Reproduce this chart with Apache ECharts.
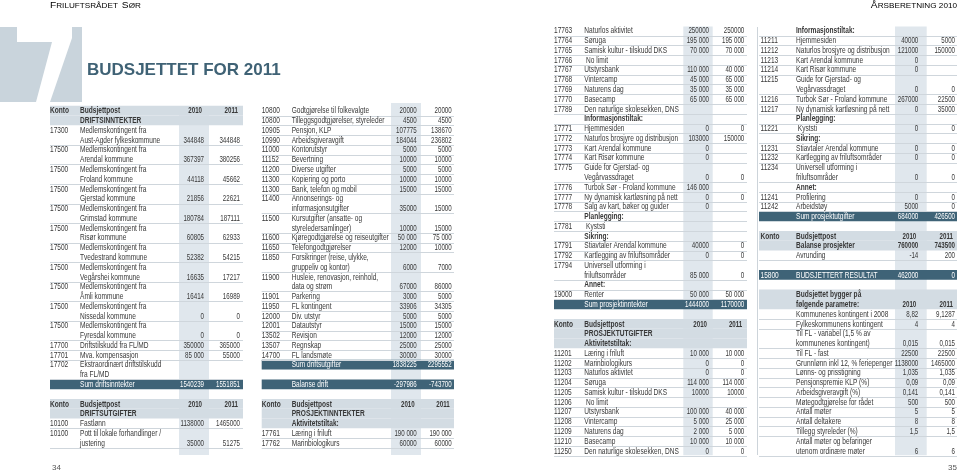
<!DOCTYPE html>
<html>
<head>
<meta charset="UTF-8"/>
<title>Budsjettet for 2011</title>
<script src="https://cdn.jsdelivr.net/npm/echarts@6/dist/echarts.min.js"></script>
<style>
    html, body { margin: 0; padding: 0; background: #fff; }
    #chart { width: 960px; height: 475px; }
</style>
</head>
<body>
<div id="chart"></div>
<script>
// rad-typer: h = grå overskrift, r = vanlig rad, s = seksjon, sum = mørk sumrad, gap = tom linje
var headRow = ['h', 'Konto', 'Budsjettpost', '2010', '2011'];
var gapRow = ['gap', '', '', '', ''];

var driftsinntekter = [
    headRow,
    ['h', '', 'DRIFTSINNTEKTER', '', ''],
    ['r', '17300', 'Medlemskontingent fra\nAust-Agder fylkeskommune', '344848', '344848'],
    ['r', '17500', 'Medlemskontingent fra\nArendal kommune', '367397', '380256'],
    ['r', '17500', 'Medlemskontingent fra\nFroland kommune', '44118', '45662'],
    ['r', '17500', 'Medlemskontingent fra\nGjerstad kommune', '21856', '22621'],
    ['r', '17500', 'Medlemskontingent fra\nGrimstad kommune', '180784', '187111'],
    ['r', '17500', 'Medlemskontingent fra\nRisør kommune', '60805', '62933'],
    ['r', '17500', 'Medlemskontingent fra\nTvedestrand kommune', '52382', '54215'],
    ['r', '17500', 'Medlemskontingent fra\nVegårshei kommune', '16635', '17217'],
    ['r', '17500', 'Medlemskontingent fra\nÅmli kommune', '16414', '16989'],
    ['r', '17500', 'Medlemskontingent fra\nNissedal kommune', '0', '0'],
    ['r', '17500', 'Medlemskontingent fra\nFyresdal kommune', '0', '0'],
    ['r', '17700', 'Driftstilskudd fra FL/MD', '350000', '365000'],
    ['r', '17701', 'Mva. kompensasjon', '85 000', '55000'],
    ['r', '17702', 'Ekstraordinært driftstilskudd\nfra FL/MD', '', ''],
    ['sum', '', 'Sum driftsinntekter', '1540239', '1551851'],
    gapRow,
    headRow,
    ['h', '', 'DRIFTSUTGIFTER', '', ''],
    ['r', '10100', 'Fastlønn', '1138000', '1465000'],
    ['r', '10100', 'Pott til lokale forhandlinger /\njustering', '35000', '51275']
];

var driftsutgifter = [
    ['r', '10800', 'Godtgjørelse til folkevalgte', '20000', '20000'],
    ['r', '10800', 'Tilleggsgodtgjørelser, styreleder', '4500', '4500'],
    ['r', '10905', 'Pensjon, KLP', '107775', '138670'],
    ['r', '10990', 'Arbeidsgiveravgift', '184044', '236802'],
    ['r', '11000', 'Kontorutstyr', '5000', '5000'],
    ['r', '11152', 'Bevertning', '10000', '10000'],
    ['r', '11200', 'Diverse utgifter', '5000', '5000'],
    ['r', '11300', 'Kopiering og porto', '10000', '10000'],
    ['r', '11300', 'Bank, telefon og mobil', '15000', '15000'],
    ['r', '11400', 'Annonserings- og\ninformasjonsutgifter', '35000', '15000'],
    ['r', '11500', 'Kursutgifter (ansatte- og\nstyreledersamlinger)', '10000', '15000'],
    ['r', '11600', 'Kjøregodtgjørelse og reiseutgifter', '50 000', '75 000'],
    ['r', '11650', 'Telefongodtgjørelser', '12000', '10000'],
    ['r', '11850', 'Forsikringer (reise, ulykke,\ngruppeliv og kontor)', '6000', '7000'],
    ['r', '11900', 'Husleie, renovasjon, reinhold,\ndata og strøm', '67000', '86000'],
    ['r', '11901', 'Parkering', '3000', '5000'],
    ['r', '11950', 'FL kontingent', '33906', '34305'],
    ['r', '12000', 'Div. utstyr', '5000', '5000'],
    ['r', '12001', 'Datautstyr', '15000', '15000'],
    ['r', '13502', 'Revisjon', '12000', '12000'],
    ['r', '13507', 'Regnskap', '25000', '25000'],
    ['r', '14700', 'FL landsmøte', '30000', '30000'],
    ['sum', '', 'Sum driftsutgifter', '1838225', '2295552'],
    gapRow,
    ['sum', '', 'Balanse drift', '-297986', '-743700'],
    gapRow,
    headRow,
    ['h', '', 'PROSJEKTINNTEKTER', '', ''],
    ['h', '', 'Aktivitetstiltak:', '', ''],
    ['r', '17761', 'Læring i friluft', '190 000', '190 000'],
    ['r', '17762', 'Marinbiologikurs', '60000', '60000']
];

var prosjektinntekter = [
    ['r', '17763', 'Naturlos aktivitet', '250000', '250000'],
    ['r', '17764', 'Søruga', '195 000', '195 000'],
    ['r', '17765', 'Samisk kultur - tilskudd DKS', '70 000', '70 000'],
    ['r', '17766', ' No limit', '', ''],
    ['r', '17767', 'Utstyrsbank', '110 000', '40 000'],
    ['r', '17768', 'Vintercamp', '45 000', '65 000'],
    ['r', '17769', 'Naturens dag', '35 000', '35 000'],
    ['r', '17770', 'Basecamp', '65 000', '65 000'],
    ['r', '17789', 'Den naturlige skolesekken, DNS', '', ''],
    ['s', '', 'Informasjonstiltak:', '', ''],
    ['r', '17771', 'Hjemmesiden', '0', '0'],
    ['r', '17772', 'Naturlos brosjyre og distribusjon', '103000', '150000'],
    ['r', '17773', 'Kart Arendal kommune', '0', ''],
    ['r', '17774', 'Kart Risør kommune', '0', ''],
    ['r', '17775', 'Guide for Gjerstad- og\nVegårvassdraget', '0', '0'],
    ['r', '17776', 'Turbok Sør - Froland kommune', '146 000', ''],
    ['r', '17777', 'Ny dynamisk kartløsning på nett', '0', '0'],
    ['r', '17778', 'Salg av kart, bøker og guider', '0', ''],
    ['s', '', 'Planlegging:', '', ''],
    ['r', '17781', ' Kyststi', '', ''],
    ['s', '', 'Sikring:', '', ''],
    ['r', '17791', 'Stiavtaler Arendal kommune', '40000', '0'],
    ['r', '17792', 'Kartlegging av friluftsområder', '0', '0'],
    ['r', '17794', 'Universell utforming i\nfriluftsområder', '85 000', '0'],
    ['s', '', 'Annet:', '', ''],
    ['r', '19000', 'Renter', '50 000', '50 000'],
    ['sum', '', 'Sum prosjektinntekter', '1444000', '1170000'],
    gapRow,
    headRow,
    ['h', '', 'PROSJEKTUTGIFTER', '', ''],
    ['h', '', 'Aktivitetstiltak:', '', ''],
    ['r', '11201', 'Læring i friluft', '10 000', '10 000'],
    ['r', '11202', 'Marinbiologikurs', '0', '0'],
    ['r', '11203', 'Naturlos aktivitet', '0', '0'],
    ['r', '11204', 'Søruga', '114 000', '114 000'],
    ['r', '11205', 'Samisk kultur - tilskudd DKS', '10000', '10000'],
    ['r', '11206', ' No limit', '', ''],
    ['r', '11207', 'Utstyrsbank', '100 000', '40 000'],
    ['r', '11208', 'Vintercamp', '5 000', '25 000'],
    ['r', '11209', 'Naturens dag', '2 000', '5 000'],
    ['r', '11210', 'Basecamp', '10 000', '10 000'],
    ['r', '11250', 'Den naturlige skolesekken, DNS', '0', '0']
];

var prosjektutgifter = [
    ['s', '', 'Informasjonstiltak:', '', ''],
    ['r', '11211', 'Hjemmesiden', '40000', '5000'],
    ['r', '11212', 'Naturlos brosjyre og distribusjon', '121000', '150000'],
    ['r', '11213', 'Kart Arendal kommune', '0', ''],
    ['r', '11214', 'Kart Risør kommune', '0', ''],
    ['r', '11215', 'Guide for Gjerstad- og\nVegårvassdraget', '0', '0'],
    ['r', '11216', 'Turbok Sør - Froland kommune', '267000', '22500'],
    ['r', '11217', 'Ny dynamisk kartløsning på nett', '0', '35000'],
    ['s', '', 'Planlegging:', '', ''],
    ['r', '11221', ' Kyststi', '0', '0'],
    ['s', '', 'Sikring:', '', ''],
    ['r', '11231', 'Stiavtaler Arendal kommune', '0', '0'],
    ['r', '11232', 'Kartlegging av friluftsområder', '0', '0'],
    ['r', '11234', 'Universell utforming i\nfriluftsområder', '0', '0'],
    ['s', '', 'Annet:', '', ''],
    ['r', '11241', 'Profilering', '0', '0'],
    ['r', '11242', 'Arbeidstøy', '5000', '0'],
    ['sum', '', 'Sum prosjektutgifter', '684000', '426500'],
    gapRow,
    headRow,
    ['h', '', 'Balanse prosjekter', '760000', '743500'],
    ['r', '', 'Avrunding', '-14', '200'],
    gapRow,
    ['sum', '15800', 'BUDSJETTERT RESULTAT', '462000', '0'],
    gapRow,
    ['h', '', 'Budsjettet bygger på\nfølgende parametre:', '2010', '2011'],
    ['r', '', 'Kommunenes kontingent i 2008', '8,82', '9,1287'],
    ['r', '', 'Fylkeskommunens kontingent', '4', '4'],
    ['r', '', 'Til FL - variabel (1,5 % av\nkommunenes kontingent)', '0,015', '0,015'],
    ['r', '', 'Til FL - fast', '22500', '22500'],
    ['r', '', 'Grunnlønn inkl 12, % feriepenger', '1138000', '1465000'],
    ['r', '', 'Lønns- og prisstigning', '1,035', '1,035'],
    ['r', '', 'Pensjonspremie KLP (%)', '0,09', '0,09'],
    ['r', '', 'Arbeidsgiveravgift (%)', '0,141', '0,141'],
    ['r', '', 'Møtegodtgjørelse for rådet', '500', '500'],
    ['r', '', 'Antall møter', '5', '5'],
    ['r', '', 'Antall deltakere', '8', '8'],
    ['r', '', 'Tillegg styreleder (%)', '1,5', '1,5'],
    ['r', '', 'Antall møter og befaringer\nutenom ordinære møter', '6', '6']
];

var BAND = '#d3dce3';
var STRIPE = '#e0e7ed';
var DARK = '#3f6377';
var SEP = '#cfd6dc';
var INK = '#383838';
var FONT = '"Liberation Sans", Arimo, Arial, sans-serif';
var FSIZE = 9.8;
var PITCH = 9.77;
var TXT_SX = 0.67, NUM_SX = 0.63;

// oppsett per tabellspalte (x i piksler fra venstre kant av tabellen)
var tables = [
    {rows: driftsinntekter, left: 50, w: 193, y0: 110.7, maxLine: 36,
        konto: 0, post: 30, v10: 154, v11: 190, s0: 129, s1: 159, stripe: [0, 35.25]},
    {rows: driftsutgifter, left: 261.7, w: 192.3, y0: 110.7, maxLine: 36,
        konto: 0, post: 30, v10: 155, v11: 190, s0: 129.3, s1: 159.3, stripe: [-0.8, 35.25]},
    {rows: prosjektinntekter, left: 554, w: 193, y0: 30.7, maxLine: 44,
        konto: 0, post: 30.3, v10: 155, v11: 190.3, s0: 129.3, s1: 158.7, stripe: [-0.42, 43.45]},
    {rows: prosjektutgifter, left: 759, w: 198, y0: 30.7, maxLine: 44,
        konto: 1.5, post: 37, v10: 159.3, v11: 196, s0: 136, s1: 167.7, stripe: [-0.42, 43.45]}
];

function txt(x, y, s, opt) {
    return {
        type: 'text', x: x, y: y, scaleX: opt.sx, z2: 3,
        style: {
            text: s, fill: opt.fill, font: (opt.bold ? 'bold ' : '') + FSIZE + 'px ' + FONT,
            align: opt.align, textAlign: opt.align, verticalAlign: 'middle', textVerticalAlign: 'middle'
        }
    };
}

function rowRenderer(t) {
    return function (params, api) {
        var row = t.rows[params.dataIndex];
        var type = row[0];
        var lines = row[2].split('\n');
        var first = api.value(0);
        var last = first + lines.length - 1;
        var yc = function (l) { return api.coord([0, l])[1]; };
        var xc = function (dx) { return api.coord([dx, first])[0]; };
        var half = api.size([0, 1])[1] / 2;
        var kids = [];
        if (type === 'gap') return {type: 'group', children: kids};
        if (type === 'h' || type === 'sum') {
            kids.push({
                type: 'rect', z2: 1,
                shape: {x: xc(0), y: yc(first) - half, width: xc(t.w) - xc(0), height: yc(last) - yc(first) + 2 * half},
                style: {fill: type === 'h' ? BAND : DARK}
            });
        } else {
            var yb = Math.round(yc(last) + half) + 0.5;
            kids.push({
                type: 'line', z2: 2,
                shape: {x1: xc(0), y1: yb, x2: xc(t.w), y2: yb},
                style: {stroke: SEP, lineWidth: 1}
            });
        }
        var fill = type === 'sum' ? '#ffffff' : INK;
        var bold = type === 'h' || type === 's';
        var isHead = row[3] === '2010';
        if (row[1]) kids.push(txt(xc(t.konto), yc(first), row[1], {sx: TXT_SX, fill: fill, bold: bold, align: 'left'}));
        lines.forEach(function (s, i) {
            kids.push(txt(xc(t.post), yc(first + i), s, {sx: TXT_SX, fill: fill, bold: bold, align: 'left'}));
        });
        var off = isHead ? 2 : 0;
        if (row[3]) kids.push(txt(xc(t.v10 - off), yc(last), row[3], {sx: NUM_SX, fill: fill, bold: bold, align: 'right'}));
        if (row[4]) kids.push(txt(xc(t.v11 - off), yc(last), row[4], {sx: NUM_SX, fill: fill, bold: bold, align: 'right'}));
        return {type: 'group', children: kids};
    };
}

function stripeRenderer(t) {
    return function (params, api) {
        var a = api.coord([t.s0, api.value(0)]);
        var b = api.coord([t.s1, api.value(1)]);
        return {type: 'rect', shape: {x: a[0], y: a[1], width: b[0] - a[0], height: b[1] - a[1]}, style: {fill: STRIPE}};
    };
}

var grids = [], xAxes = [], yAxes = [], series = [];
tables.forEach(function (t, i) {
    grids.push({left: t.left, width: t.w, top: t.y0 - PITCH, height: (t.maxLine + 1) * PITCH});
    xAxes.push({type: 'value', gridIndex: i, min: 0, max: t.w, show: false});
    yAxes.push({type: 'value', gridIndex: i, min: -1, max: t.maxLine, inverse: true, show: false});
    var start = 0;
    var data = t.rows.map(function (r) {
        var d = [start];
        start += r[2] ? r[2].split('\n').length : 1;
        return d;
    });
    series.push({
        type: 'custom', xAxisIndex: i, yAxisIndex: i, z: 1, silent: true, clip: false,
        renderItem: stripeRenderer(t), data: [t.stripe]
    });
    series.push({
        type: 'custom', xAxisIndex: i, yAxisIndex: i, z: 2, silent: true, clip: false,
        renderItem: rowRenderer(t), data: data
    });
});

var capsRich = {
    a: {fontSize: 8.5, fontFamily: FONT, color: '#8fa2af'},
    b: {fontSize: 6.8, fontFamily: FONT, color: '#8fa2af'}
};

var myChart = echarts.init(document.getElementById('chart'));
myChart.setOption({
    animation: false,
    grid: grids,
    xAxis: xAxes,
    yAxis: yAxes,
    series: series,
    graphic: [
        // stor 7-tall
        {type: 'rect', shape: {x: 0, y: 27, width: 82, height: 75}, style: {fill: '#c9d4dc'}, z: 0},
        {type: 'polygon', shape: {points: [[17, 27], [72, 27], [72, 38], [50, 102], [36, 102], [52, 42], [17, 42]]},
            style: {fill: '#ffffff'}, z: 0},
        {type: 'text', x: 87, y: 70, style: {
            text: 'BUDSJETTET FOR 2011', font: 'bold 17px ' + FONT, fill: '#3f6275',
            align: 'left', textAlign: 'left', verticalAlign: 'middle', textVerticalAlign: 'middle'}},
        {type: 'text', x: 50, y: 6, scaleX: 1.2, style: {
            text: '{a|F}{b|RILUFTSRÅDET} {a|S}{b|ØR}', rich: capsRich,
            align: 'left', textAlign: 'left', verticalAlign: 'middle', textVerticalAlign: 'middle'}},
        {type: 'text', x: 957, y: 6, scaleX: 1.2, style: {
            text: '{a|Å}{b|RSBERETNING 2010}', rich: capsRich,
            align: 'right', textAlign: 'right', verticalAlign: 'middle', textVerticalAlign: 'middle'}},
        {type: 'line', shape: {x1: 757.5, y1: 27, x2: 757.5, y2: 455}, style: {stroke: '#cdd4da', lineWidth: 1}},
        {type: 'text', x: 52, y: 468, style: {
            text: '34', font: '8px ' + FONT, fill: '#555',
            align: 'left', textAlign: 'left', verticalAlign: 'middle', textVerticalAlign: 'middle'}},
        {type: 'text', x: 957, y: 468, style: {
            text: '35', font: '8px ' + FONT, fill: '#555',
            align: 'right', textAlign: 'right', verticalAlign: 'middle', textVerticalAlign: 'middle'}}
    ]
});
</script>
</body>
</html>
